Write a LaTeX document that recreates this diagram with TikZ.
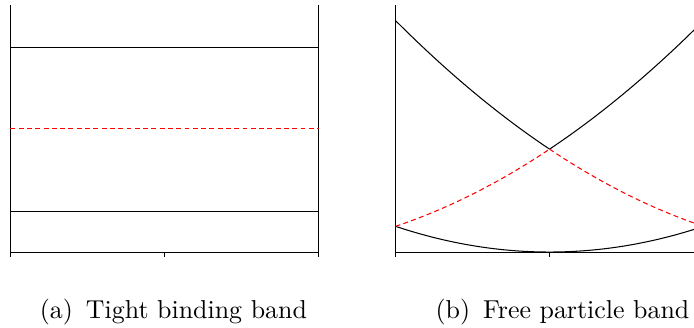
\documentclass[tikz,border=0pt]{standalone}
\tikzset{
	redband/.style={draw=red, dash pattern=on 1.9pt off 1.3pt},
	subcap/.style={anchor=base, inner sep=0pt}
}
\begin{document}
\begin{tikzpicture}[line join=round, line cap=butt, x=2.09cm]
	\clip (-2.232cm,-1.018cm) rectangle (7.185cm,3.42cm);
	
	% (a) Tight binding
	\begin{scope}[y=0.556cm]
		\draw (-1,0)--(1,0);
		\draw (-1,0) ++(0,-2pt)--(-1,6.03);
		\draw (1,0) ++(0,-2pt)--(1,6.03);
		\draw (0,0)--(0,-2pt);
		
		\draw (-1,1)--(1,1);
		\draw (-1,5)--(1,5);
		\draw[redband] (-1,3.01)--(1,3.01);
		
		\node[subcap] (capA) at (0.058,-1.61) {(a)\enskip Tight binding band};
	\end{scope}
	
	% (b) Free particle
	\begin{scope}[xshift=5.225cm, y=0.349cm]
		\draw (-1,0)--(1,0);
		\draw (-1,0) ++(0,-2pt)--(-1,9.6);
		\draw (1,0) ++(0,-2pt)--(1,9.6);
		\draw (0,0)--(0,-2pt);
		
		% lowest band
		\draw[samples=60, domain=-1:1, smooth, variable=\x] plot (\x, {(\x)^2});
		% second band
		\draw[samples=60, domain=-1:0, smooth, variable=\x] plot (\x, {(\x-2)^2});
		\draw[samples=60, domain=0:1, smooth, variable=\x] plot (\x, {(\x+2)^2});
		% zone folded parts
		\draw[redband, samples=60, domain=-1:0, smooth, variable=\x] plot (\x, {(\x+2)^2});
		\draw[redband, samples=60, domain=0:1, smooth, variable=\x] plot (\x, {(\x-2)^2});
		
		\node[subcap] (capB) at (0.084,-2.567) {(b)\enskip Free particle band};
	\end{scope}
\end{tikzpicture}
\end{document}
